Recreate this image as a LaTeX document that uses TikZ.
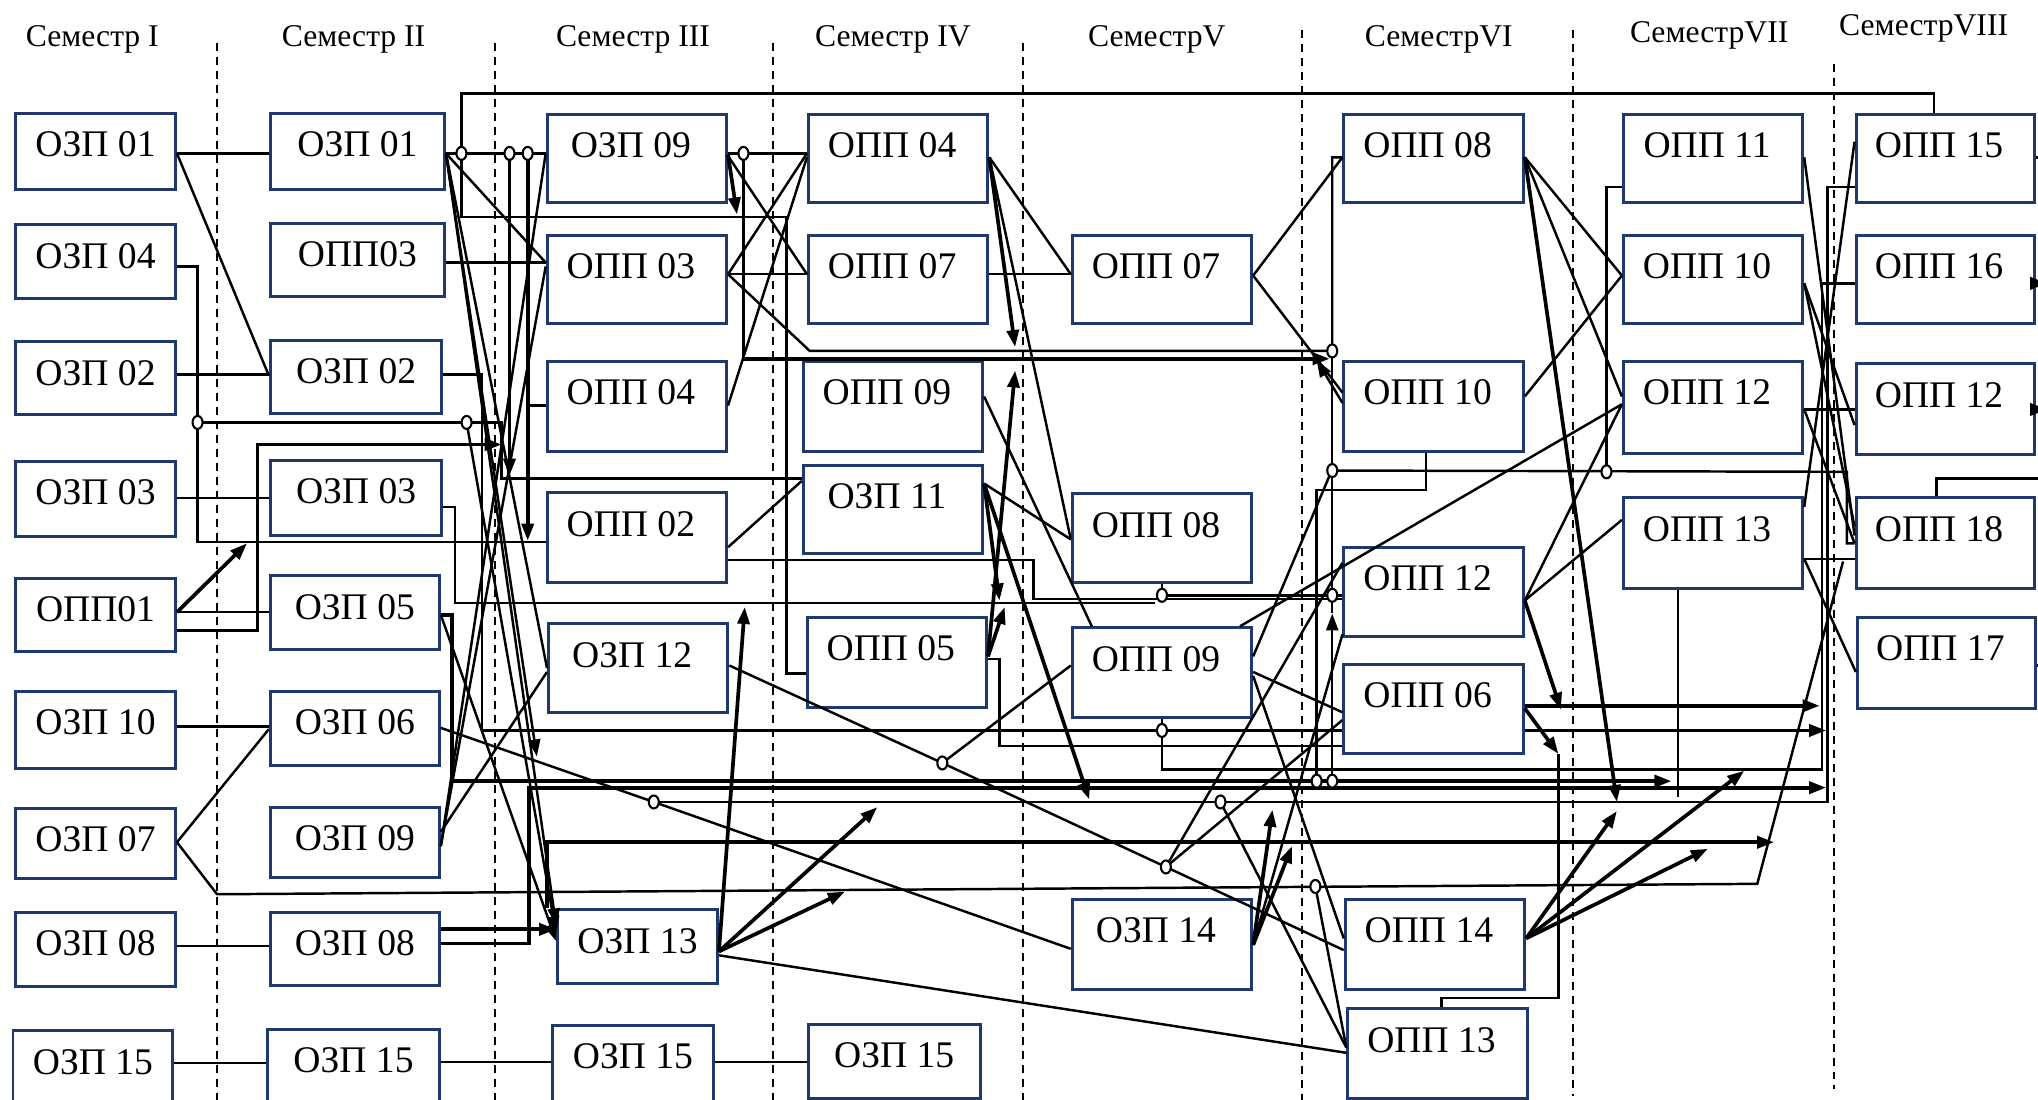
\documentclass[tikz,border=0pt]{standalone}
\usepackage{fontspec}
\setmainfont{Liberation Serif}
\usetikzlibrary{arrows.meta,fit,shapes.geometric}
\definecolor{boxblue}{RGB}{31,56,110}
\newcommand\mybox[6]{%
  \node[box,fit={(#2,#3) (#4,#5)}] (#1) {};
  \node[lbl] (#1t) at ([yshift=-4.49mm]#1.north) {#6};}
\newcommand\mytbox[6]{%
  \node[box,fit={(#2,#3) (#4,#5)}] (#1) {};
  \node[lbl] (#1t) at ([yshift=-4.49mm,xshift=-0.6mm]#1.north) {#6};}
\begin{document}
\begin{tikzpicture}[x=0.013cm,y=-0.013cm,
  box/.style={draw=boxblue,line width=0.85pt,fill=white,inner sep=0pt},
  lbl/.style={font=\fontsize{10.7}{12}\selectfont,inner sep=0pt,anchor=base},
  hdr/.style={font=\fontsize{9}{11}\selectfont,inner sep=0pt},
  ln/.style={line width=0.7pt},
  tk/.style={line width=1.05pt},
  ar/.style={-{Triangle[length=1.7mm,width=1.2mm]}},
  sep/.style={dash pattern=on 0.8mm off 0.6mm,line width=0.65pt},
  junc/.style={ellipse,draw,fill=white,line width=0.6pt,minimum width=1mm,minimum height=1.3mm,inner sep=0pt}
]
\useasboundingbox (0,0) rectangle (1568,846);
% headers
\node[hdr] (s1) at (71,30) {Семестр I};
\node[hdr] (s2) at (272,30) {Семестр II};
\node[hdr] (s3) at (487,30) {Семестр III};
\node[hdr] (s4) at (687,30) {Семестр IV};
\node[hdr] (s5) at (890,30) {СеместрV};
\node[hdr] (s6) at (1107,30) {СеместрVI};
\node[hdr] (s7) at (1315,27) {СеместрVII};
\node[hdr] (s8) at (1480,22) {СеместрVIII};
% separators
\draw[sep] (167,33) -- (167,846);
\draw[sep] (381,33) -- (381,846);
\draw[sep] (595,33) -- (595,846);
\draw[sep] (787,33) -- (787,846);
\draw[sep] (1002,23) -- (1002,846);
\draw[sep] (1210,23) -- (1210,843);
\draw[sep] (1411,49) -- (1411,838);
% boxes
\mybox{a1}{12}{87}{135}{146}{ОЗП 01}
\mybox{a2}{12}{173}{135}{230}{ОЗП 04}
\mybox{a3}{12}{263}{135}{319}{ОЗП 02}
\mybox{a4}{12}{355}{135}{413}{ОЗП 03}
\mybox{a5}{12}{445}{135}{501}{ОПП01}
\mybox{a6}{12}{532}{135}{591}{ОЗП 10}
\mybox{a7}{12}{622}{135}{676}{ОЗП 07}
\mybox{a8}{12}{702}{135}{759}{ОЗП 08}
\mybox{a9}{10}{793}{133}{855}{ОЗП 15}
\mybox{b1}{208}{87}{342}{146}{ОЗП 01}
\mybox{b2}{208}{172}{342}{228}{ОПП03}
\mybox{b3}{208}{262}{340}{318}{ОЗП 02}
\mybox{b4}{208}{354}{340}{412}{ОЗП 03}
\mybox{b5}{208}{443}{338}{500}{ОЗП 05}
\mybox{b6}{208}{532}{338}{589}{ОЗП 06}
\mybox{b7}{208}{621}{338}{675}{ОЗП 09}
\mybox{b8}{208}{702}{338}{758}{ОЗП 08}
\mybox{b9}{206}{792}{338}{855}{ОЗП 15}
\mytbox{c1}{421}{88}{559}{156}{ОЗП 09}
\mytbox{c2}{421}{181}{559}{249}{ОПП 03}
\mytbox{c3}{421}{278}{559}{347}{ОПП 04}
\mytbox{c4}{421}{379}{559}{448}{ОПП 02}
\mytbox{c5}{422}{480}{560}{548}{ОЗП 12}
\mybox{c6}{429}{700}{552}{757}{ОЗП 13}
\mybox{c7}{425}{789}{549}{855}{ОЗП 15}
\mytbox{d1}{622}{88}{760}{156}{ОПП 04}
\mytbox{d2}{622}{181}{760}{249}{ОПП 07}
\mytbox{d3}{618}{278}{756}{347}{ОПП 09}
\mytbox{d4}{618}{358}{756}{426}{ОЗП 11}
\mytbox{d5}{621}{475}{759}{544}{ОПП 05}
\mybox{d6}{622}{788}{754}{845}{ОЗП 15}
\mytbox{e1}{825}{181}{963}{249}{ОПП 07}
\mytbox{e2}{825}{380}{963}{448}{ОПП 08}
\mytbox{e3}{825}{483}{963}{552}{ОПП 09}
\mytbox{e4}{825}{692}{963}{761}{ОЗП 14}
\mytbox{f1}{1034}{88}{1172}{156}{ОПП 08}
\mytbox{f2}{1034}{278}{1172}{347}{ОПП 10}
\mytbox{f3}{1034}{421}{1172}{490}{ОПП 12}
\mytbox{f4}{1034}{511}{1172}{580}{ОПП 06}
\mytbox{f5}{1035}{692}{1173}{761}{ОПП 14}
\mytbox{f6}{1037}{776}{1175}{845}{ОПП 13}
\mytbox{g1}{1249}{88}{1387}{156}{ОПП 11}
\mytbox{g2}{1249}{181}{1387}{249}{ОПП 10}
\mytbox{g3}{1249}{278}{1387}{349}{ОПП 12}
\mytbox{g4}{1249}{383}{1387}{453}{ОПП 13}
\mytbox{h1}{1428}{88}{1565}{156}{ОПП 15}
\mytbox{h2}{1428}{181}{1565}{249}{ОПП 16}
\mytbox{h3}{1428}{280}{1565}{350}{ОПП 12}
\mytbox{h4}{1428}{383}{1565}{453}{ОПП 18}
\mytbox{h5}{1429}{475}{1566}{545}{ОПП 17}
% ---- connectors: semester I -> II
\draw[ln] (a1.east|-0,118) -- (b1.west|-0,118);
\draw[ln] (a1.east|-0,118) -- (b3.west|-0,289);
\draw[ln] (a2.east|-0,205) -| (152,417) -- (c4.west|-0,417);
\draw[ln] (152,325) -- (386,325) -- (386,368) -- (d4.west|-0,368);
\draw[ln] (a3.east|-0,288) -- (b3.west|-0,288);
\draw[ln] (a4.east|-0,383) -- (b4.west|-0,383);
\draw[tk,ar] (a5.east|-0,471) -- (190,418);
\draw[ln] (a5.east|-0,471) -- (b5.west|-0,471);
\draw[tk,ar] (a5.east|-0,485) -| (198,342) -- (386,342);
\draw[ln] (a6.east|-0,559) -- (b6.west|-0,559);
\draw[ln] (a7.east|-0,648) -- (b6.west|-0,561);
\draw[ln] (a7.east|-0,648) -- (167,688) -- (1352,680) -- (1418,432);
\draw[ln] (a8.east|-0,728) -- (b8.west|-0,728);
\draw[ln] (a9.east|-0,818) -- (b9.west|-0,818);
% ---- II -> III
\draw[ln] (b1.east|-0,118) -- (c1.west|-0,118);
\draw[ln] (b1.east|-0,118) -- (c2.west|-0,202);
\draw[ln] (b2.east|-0,202) -- (c2.west|-0,202);
\draw[ln] (b1.east|-0,118) -- (c5.west|-0,514);
\draw[ln,ar] (b1.east|-0,118) -- (413,582);
\draw[ln,ar] (b1.east|-0,118) -- (c6.west|-0,712);
\draw[ln,ar] (359,325) -- (c6.west|-0,718);
\draw[ln,ar] (b5.east|-0,473) -- (c6.west|-0,724);
\draw[ln] (b3.east|-0,288) -| (371,562) -- (f4.west|-0,562);
\draw[ln] (b4.east|-0,390) -| (350,464) -- (889,464);
\draw[tk,ar] (b5.east|-0,473) -| (348,601) -- (1286,601);
\draw[ln] (b6.east|-0,560) -- (503,617) -- (e4.west|-0,730);
\draw[ln] (503,617) -- (1406,617) -- (1406,144) -- (h1.west|-0,144);
\draw[ln] (b7.east|-0,651) -- (c1.west|-0,118);
\draw[ln] (b7.east|-0,651) -- (c2.west|-0,205);
\draw[ln] (b7.east|-0,640) -- (c5.west|-0,517);
\draw[tk,ar] (b8.east|-0,715) -- (c6.west|-0,715);
\draw[tk,ar] (b8.east|-0,726) -| (407,606) -- (1405,606);
\draw[ln] (b9.east|-0,817) -- (c7.west|-0,817);
\draw[ln] (c7.east|-0,817) -- (d6.west|-0,817);
\draw[tk,ar] (392,118) -- (392,366);
\draw[tk,ar] (406,118) -- (406,416);
\draw[ln] (406,312) -- (c3.west|-0,312);
\draw[ln] (d5.west|-0,518) -| (605,167) -- (355,167) -- (355,72) -- (1488,72) -- (h1.north-|1488,0);
\draw[tk,ar] (c6.north-|421,0) |- (1365,648);
% ---- III -> IV
\draw[ln] (c1.east|-0,118) -- (d1.west|-0,118);
\draw[tk,ar] (c1.east|-0,119) -- (567,165);
\draw[ln] (c1.east|-0,120) -- (d2.west|-0,211);
\draw[ln] (c2.east|-0,211) -- (d1.west|-0,118);
\draw[ln] (c2.east|-0,211) -- (d2.west|-0,211);
\draw[ln] (c2.east|-0,211) -- (623,270) -- (1025,270) -- (1025,121) -- (f1.west|-0,121);
\draw[tk,ar] (572,118) -- (572,276) -- (1023,276);
\draw[ln] (c3.east|-0,312) -- (d1.west|-0,121);
\draw[ln] (c4.east|-0,421) -- (d4.west|-0,370);
\draw[ln] (c4.east|-0,431) -- (795,431) -- (795,461) -- (f3.west|-0,461);
% ---- IV -> V
\draw[ln] (d2.east|-0,211) -- (e1.west|-0,211);
\draw[ln] (d1.east|-0,121) -- (e1.west|-0,211);
\draw[tk,ar] (d1.east|-0,121) -- (781,267);
\draw[ln] (d1.east|-0,121) -- (e2.west|-0,415);
\draw[ln] (d3.east|-0,305) -- (e3.north-|840,0);
\draw[ln] (d4.east|-0,372) -- (e2.west|-0,415);
\draw[tk,ar] (d4.east|-0,372) -- (769,462);
\draw[tk,ar] (d4.east|-0,372) -- (838,615);
\draw[tk,ar] (d5.east|-0,505) -- (781,285);
\draw[tk,ar] (d5.east|-0,505) -- (773,467);
\draw[ln] (d5.east|-0,507) -| (769,574) -- (f4.west|-0,574);
\draw[ln] (c5.east|-0,512) -- (725,587) -- (897,667) -- (f5.west|-0,731);
\draw[tk,ar] (c6.east|-0,732) -- (573,467);
\draw[tk,ar] (c6.east|-0,732) -- (675,621);
\draw[tk,ar] (c6.east|-0,732) -- (650,686);
\draw[ln] (c6.east|-0,735) -- (f6.west|-0,810);
% ---- V -> VI
\draw[ln] (e1.east|-0,212) -- (f1.west|-0,121);
\draw[ln] (e1.east|-0,212) -- (f2.west|-0,302);
\draw[ln,ar] (f2.west|-0,310) -- (1013,277);
\draw[ln] (e2.south-|894,0) -- (894,458) -- (f3.west|-0,458);
\draw[ln] (e3.south-|894,0) -- (894,592) -- (1402,592) -- (1402,218) -- (h2.west|-0,218);
\draw[ln] (e3.east|-0,505) -- (1025,361);
\draw[ln] (1025,270) -- (1025,472);
\draw[ln,ar] (1025,601) -- (1025,472);
\draw[ln] (1025,362) -- (1421,363) -- (1421,418) -- (h4.west|-0,418);
\draw[ln] (1236,363) -- (1236,144) -- (g1.west|-0,144);
\draw[ln] (f2.south-|1097,0) -- (1097,377) -- (1013,377) -- (1013,601);
\draw[ln] (e3.north-|954,0) -- (g3.west|-0,311);
\draw[ln] (e3.east|-0,517) -- (f4.west|-0,548);
\draw[ln] (e3.east|-0,520) -- (f5.west|-0,722);
\draw[ln] (e3.west|-0,512) -- (725,587);
\draw[ln] (897,667) -- (f3.west|-0,433);
\draw[ln] (897,667) -- (f4.west|-0,554);
\draw[ln] (e4.east|-0,727) -- (f3.west|-0,488);
\draw[tk,ar] (e4.east|-0,727) -- (979,623);
\draw[tk,ar] (e4.east|-0,727) -- (994,651);
\draw[ln] (939,617) -- (f6.west|-0,806);
\draw[ln] (1012,682) -- (f6.west|-0,806);
% ---- VI -> VII
\draw[ln] (f1.east|-0,121) -- (g2.west|-0,212);
\draw[ln] (f1.east|-0,121) -- (g3.west|-0,305);
\draw[tk,ar] (f1.east|-0,121) -- (1244,617);
\draw[ln] (f2.east|-0,305) -- (g2.west|-0,212);
\draw[ln] (f3.east|-0,462) -- (g3.west|-0,311);
\draw[ln] (f3.east|-0,462) -- (g4.west|-0,400);
\draw[tk,ar] (f3.east|-0,462) -- (1201,546);
\draw[tk,ar] (f4.east|-0,543) -- (1400,543);
\draw[tk,ar] (f4.east|-0,562) -- (1405,562);
\draw[tk,ar] (f4.east|-0,545) -- (1199,580);
\draw[ln] (f6.north-|1109,0) -- (1109,768) -- (1199,768) -- (1199,580);
\draw[tk,ar] (f5.east|-0,722) -- (1244,624);
\draw[tk,ar] (f5.east|-0,722) -- (1342,593);
\draw[tk,ar] (f5.east|-0,722) -- (1314,653);
\draw[ln] (g4.south-|1291,0) -- (1291,613);
% ---- VII -> VIII
\draw[ln] (g1.east|-0,121) -- (h4.west|-0,412);
\draw[ln] (g2.east|-0,218) -- (h3.west|-0,327);
\draw[ln] (g2.east|-0,218) -- (h4.west|-0,405);
\draw[ln] (g3.east|-0,315) -- (h3.west|-0,315);
\draw[ln] (g3.east|-0,315) -- (h4.west|-0,418);
\draw[ln] (g4.east|-0,430) -- (h4.west|-0,430);
\draw[ln] (g4.east|-0,430) -- (h5.west|-0,517);
\draw[ln] (g4.east|-0,390) -- (h1.west|-0,109);
\draw[tk,ar] (h2.east|-0,218) -- (1575,218);
\draw[tk,ar] (h3.east|-0,315) -- (1575,315);
\draw[ln] (h1.east|-0,121) -- (1570,121);
\draw[ln] (h5.east|-0,512) -- (1570,512);
\draw[ln] (h4.north-|1490,0) -- (1490,368) -- (1570,368);
% junctions
\node[junc] (j1) at (152,325) {};
\node[junc] (j2) at (359,325) {};
\node[junc] (j3) at (355,118) {};
\node[junc] (j4) at (392,118) {};
\node[junc] (j5) at (406,118) {};
\node[junc] (j6) at (572,118) {};
\node[junc] (j7) at (1025,270) {};
\node[junc] (j8) at (1025,362) {};
\node[junc] (j9) at (1025,458) {};
\node[junc] (j10) at (1013,601) {};
\node[junc] (j11) at (1025,601) {};
\node[junc] (j12) at (894,458) {};
\node[junc] (j13) at (894,562) {};
\node[junc] (j14) at (503,617) {};
\node[junc] (j15) at (725,587) {};
\node[junc] (j16) at (897,667) {};
\node[junc] (j17) at (939,617) {};
\node[junc] (j18) at (1012,682) {};
\node[junc] (j19) at (1236,363) {};
\end{tikzpicture}
\end{document}
